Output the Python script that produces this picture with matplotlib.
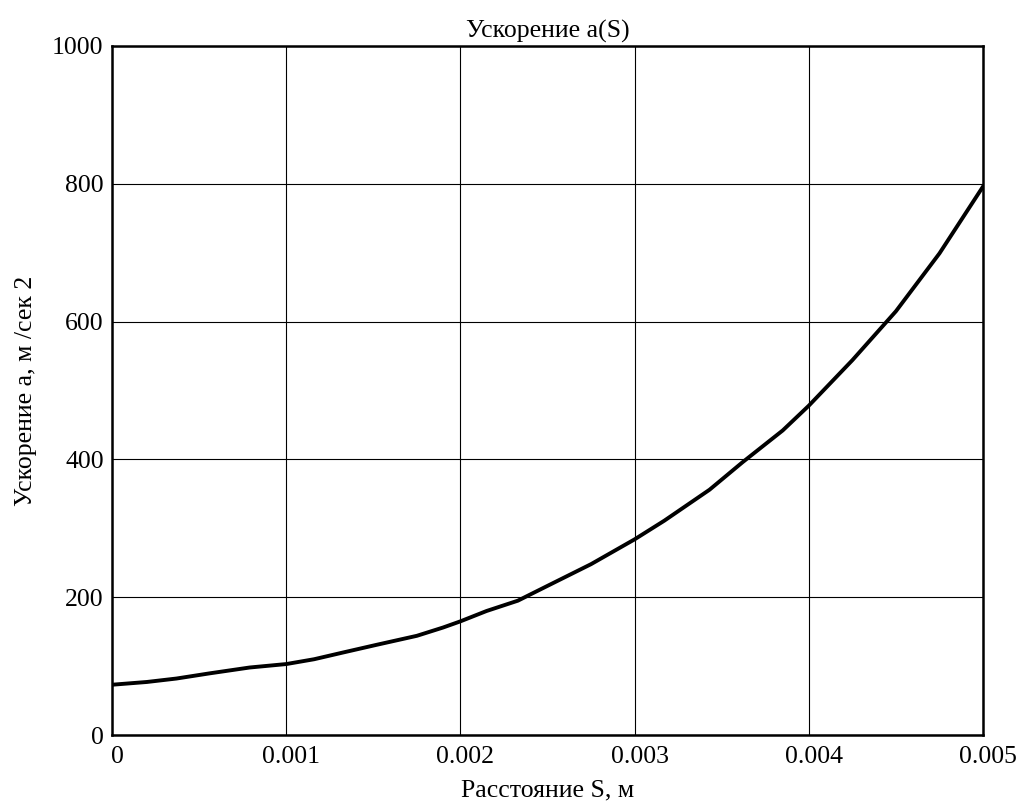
import matplotlib.pyplot as plt
import matplotlib.transforms as mtransforms

plt.rcParams['font.family'] = ['Liberation Serif', 'DejaVu Serif']

# расстояние S, м и ускорение a, м/сек2
S = [0.0, 0.0002, 0.00037, 0.00056, 0.00079, 0.001, 0.00116, 0.00133,
     0.00152, 0.00175, 0.0019, 0.002, 0.00215, 0.00233, 0.0025, 0.00275,
     0.003, 0.00317, 0.00343, 0.00362, 0.00385, 0.004, 0.00425, 0.0045,
     0.00475, 0.005]
a = [73, 77, 82, 89.5, 98, 103, 110, 120,
     131, 144, 156, 165, 180, 195, 216.5, 248,
     284, 311, 356, 396, 442, 478, 544, 615,
     699, 796]

xticks = [0, 0.001, 0.002, 0.003, 0.004, 0.005]
xtick_labels = ['0', '0.001', '0.002', '0.003', '0.004', '0.005']
yticks = [0, 200, 400, 600, 800, 1000]

fig = plt.figure(figsize=(10.21, 8.08), dpi=100)
ax = fig.add_axes([0.1097, 0.0903, 0.8531, 0.8528])

ax.plot(S, a, color='black', linewidth=2.8, solid_joinstyle='round')

ax.set_xlim(0, 0.005)
ax.set_ylim(0, 1000)
ax.set_xticks(xticks)
ax.set_xticklabels(xtick_labels)
ax.set_yticks(yticks)
ax.tick_params(length=0, labelsize=18.5)
ax.tick_params(axis='x', pad=8)
ax.tick_params(axis='y', pad=6)

# подписи по оси x немного сдвинуты вправо
off = mtransforms.ScaledTranslation(5 / 100, 0, fig.dpi_scale_trans)
for lbl in ax.get_xticklabels():
    lbl.set_transform(lbl.get_transform() + off)

ax.grid(True, color='black', linewidth=0.8)
for sp in ax.spines.values():
    sp.set_linewidth(1.8)

ax.set_title('Ускорение a(S)', fontsize=18.5, pad=6)
ax.set_xlabel('Расстояние S, м', fontsize=18.5, labelpad=8)
ax.set_ylabel('Ускорение a, м /сек 2', fontsize=18.5, labelpad=11)

fig.savefig('out.png', dpi=100)
